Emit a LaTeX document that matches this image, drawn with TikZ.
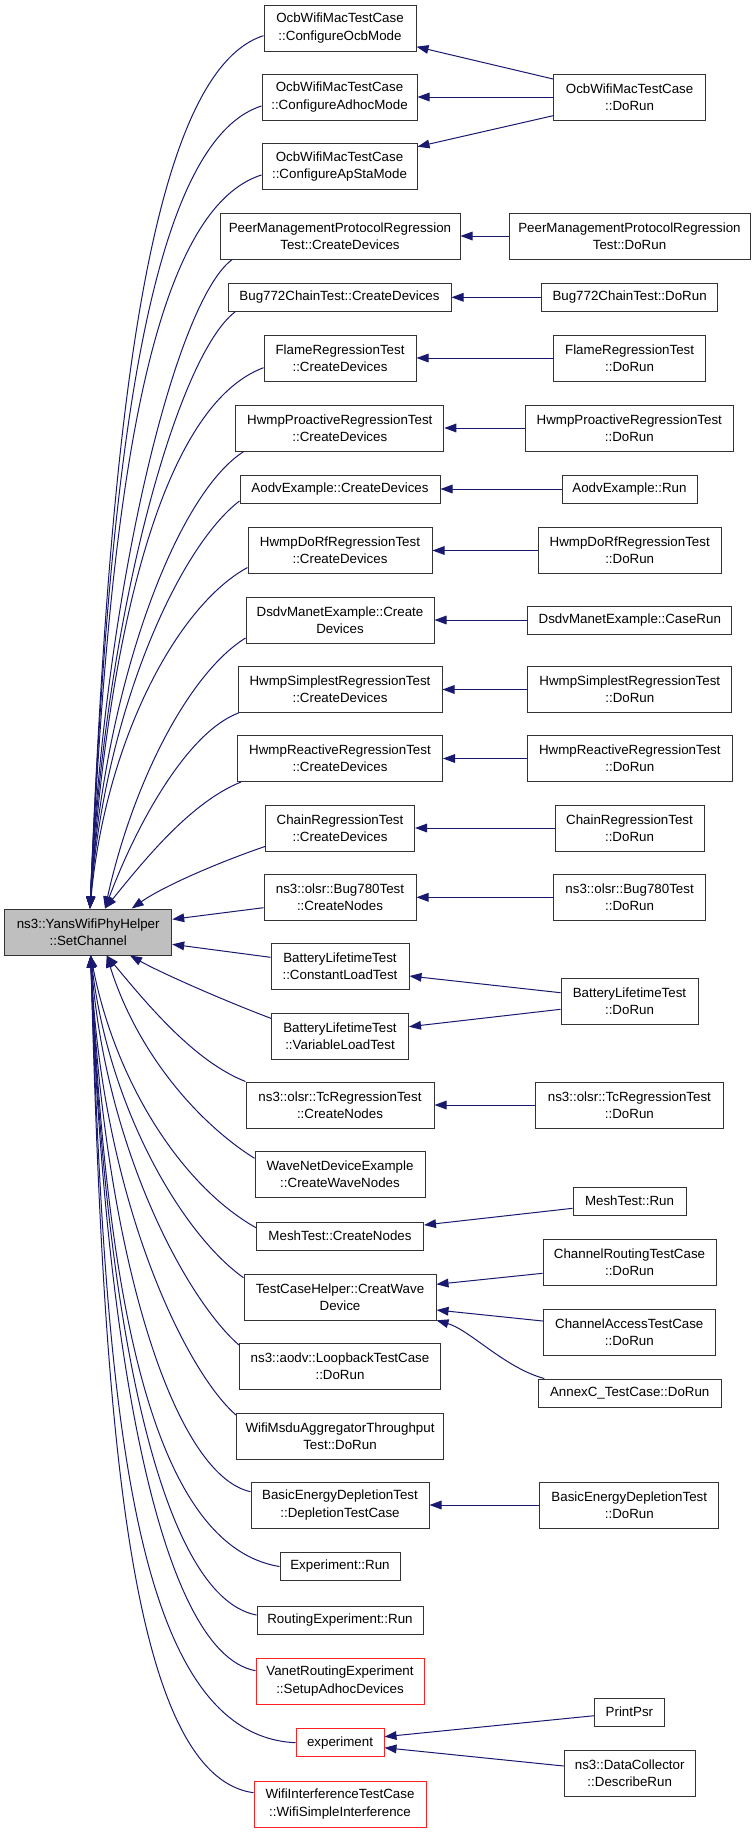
\documentclass[tikz,border=0pt]{standalone}
\usepackage{fontspec}
\setmainfont{Liberation Sans}
\usetikzlibrary{arrows.meta,calc}
\definecolor{edgeblue}{HTML}{191970}
\definecolor{boxgray}{HTML}{BFBFBF}
\definecolor{boxline}{HTML}{333333}
\definecolor{boxred}{HTML}{FF2020}
\begin{document}
\begin{tikzpicture}[x=0.75pt,y=-0.75pt,
  fn/.style={draw=boxline, line width=0.75pt, fill=white, rectangle, inner sep=0pt,
    align=center, font=\fontsize{10}{13}\selectfont, minimum height=34.5pt},
  one/.style={minimum height=21pt},
  redbox/.style={draw=boxred},
  wd/.style={minimum width=#1*0.75pt},
  calls/.style={draw=edgeblue, line width=0.75pt, -{Triangle[length=9pt,width=6.5pt]}}]
\fill[white] (0,0) rectangle (752,1832);
\path[use as bounding box] (0,0) rectangle (752,1832);

% central node
\node[fn,wd=167,fill=boxgray] (set) at (88.2,932) {ns3::YansWifiPhyHelper\\::SetChannel};

% middle column
\node[fn,wd=152] (ocb) at (340,28) {OcbWifiMacTestCase\\::ConfigureOcbMode};
\node[fn,wd=155] (adhoc) at (339.5,97) {OcbWifiMacTestCase\\::ConfigureAdhocMode};
\node[fn,wd=155] (apsta) at (339.5,166.5) {OcbWifiMacTestCase\\::ConfigureApStaMode};
\node[fn,wd=240] (peer) at (340,236) {PeerManagementProtocolRegression\\Test::CreateDevices};
\node[fn,one,wd=223] (bug772) at (339.5,297.3) {Bug772ChainTest::CreateDevices};
\node[fn,wd=152] (flame) at (340,358) {FlameRegressionTest\\::CreateDevices};
\node[fn,wd=208] (hwmppro) at (339.8,428) {HwmpProactiveRegressionTest\\::CreateDevices};
\node[fn,one,wd=200] (aodv) at (340,489) {AodvExample::CreateDevices};
\node[fn,wd=184] (dorf) at (340,550.5) {HwmpDoRfRegressionTest\\::CreateDevices};
\node[fn,wd=188] (dsdv) at (340,620) {DsdvManetExample::Create\\Devices};
\node[fn,wd=204] (simp) at (340,689.5) {HwmpSimplestRegressionTest\\::CreateDevices};
\node[fn,wd=205] (react) at (340,758.5) {HwmpReactiveRegressionTest\\::CreateDevices};
\node[fn,wd=149] (chain) at (340,828) {ChainRegressionTest\\::CreateDevices};
\node[fn,wd=152] (bug780) at (340,897.3) {ns3::olsr::Bug780Test\\::CreateNodes};
\node[fn,wd=138] (constload) at (340,966.5) {BatteryLifetimeTest\\::ConstantLoadTest};
\node[fn,wd=137] (varload) at (340,1036) {BatteryLifetimeTest\\::VariableLoadTest};
\node[fn,wd=188] (tc) at (340,1105) {ns3::olsr::TcRegressionTest\\::CreateNodes};
\node[fn,wd=170] (wavenet) at (340,1174.5) {WaveNetDeviceExample\\::CreateWaveNodes};
\node[fn,one,wd=167] (meshc) at (340,1236) {MeshTest::CreateNodes};
\node[fn,wd=192] (tch) at (340,1297.3) {TestCaseHelper::CreatWave\\Device};
\node[fn,wd=201] (loop) at (340,1366) {ns3::aodv::LoopbackTestCase\\::DoRun};
\node[fn,wd=207] (msdu) at (340,1436) {WifiMsduAggregatorThroughput\\Test::DoRun};
\node[fn,wd=178] (basic) at (340,1505) {BasicEnergyDepletionTest\\::DepletionTestCase};
\node[fn,one,wd=120] (exprun) at (340,1566.5) {Experiment::Run};
\node[fn,one,wd=166] (routing) at (340,1620) {RoutingExperiment::Run};
\node[fn,redbox,wd=168] (vanet) at (340,1681) {VanetRoutingExperiment\\::SetupAdhocDevices};
\node[fn,one,redbox,wd=88] (experiment) at (340,1742.7) {experiment};
\node[fn,redbox,wd=172] (wifiint) at (340,1804) {WifiInterferenceTestCase\\::WifiSimpleInterference};

% right column
\node[fn,wd=152] (ocbrun) at (629.6,97) {OcbWifiMacTestCase\\::DoRun};
\node[fn,wd=241] (peerrun) at (629.5,236) {PeerManagementProtocolRegression\\Test::DoRun};
\node[fn,one,wd=176] (bug772run) at (629.6,297.3) {Bug772ChainTest::DoRun};
\node[fn,wd=152] (flamerun) at (629.6,358) {FlameRegressionTest\\::DoRun};
\node[fn,wd=208.5] (hwmpprorun) at (629.3,428) {HwmpProactiveRegressionTest\\::DoRun};
\node[fn,one,wd=135] (aodvrun) at (629.5,489) {AodvExample::Run};
\node[fn,wd=183] (dorfrun) at (629.7,550.5) {HwmpDoRfRegressionTest\\::DoRun};
\node[fn,one,wd=204] (dsdvrun) at (629.8,620) {DsdvManetExample::CaseRun};
\node[fn,wd=204] (simprun) at (629.8,689.5) {HwmpSimplestRegressionTest\\::DoRun};
\node[fn,wd=205] (reactrun) at (629.8,758.5) {HwmpReactiveRegressionTest\\::DoRun};
\node[fn,wd=149] (chainrun) at (629.5,828) {ChainRegressionTest\\::DoRun};
\node[fn,wd=152] (bug780run) at (629.6,897.3) {ns3::olsr::Bug780Test\\::DoRun};
\node[fn,wd=137] (battrun) at (629.5,1001) {BatteryLifetimeTest\\::DoRun};
\node[fn,wd=188] (tcrun) at (629.4,1105) {ns3::olsr::TcRegressionTest\\::DoRun};
\node[fn,one,wd=113] (meshrun) at (629.5,1201) {MeshTest::Run};
\node[fn,wd=173] (chrout) at (629.5,1262.5) {ChannelRoutingTestCase\\::DoRun};
\node[fn,wd=172] (chacc) at (629.3,1332) {ChannelAccessTestCase\\::DoRun};
\node[fn,one,wd=183] (annexc) at (629.7,1393) {AnnexC\_TestCase::DoRun};
\node[fn,wd=179] (bedrun) at (629.3,1505) {BasicEnergyDepletionTest\\::DoRun};
\node[fn,one,wd=69.5] (printpsr) at (629.4,1712) {PrintPsr};
\node[fn,wd=131] (dcrun) at (629.7,1773.3) {ns3::DataCollector\\::DescribeRun};

% arrow tip points on the central node
\coordinate (t1) at ($(set.north)+(1.8,0)$);
\coordinate (t2) at ($(set.north)+(16.8,0)$);
\coordinate (t3) at ($(set.north)+(43.5,0)$);
\coordinate (b1) at ($(set.south)+(2.5,0)$);
\coordinate (b2) at ($(set.south)+(18.5,0)$);
\coordinate (b3) at ($(set.south)+(41.8,0)$);
\coordinate (r1) at ($(set.east)+(0,-12.7)$);
\coordinate (r2) at ($(set.east)+(0,12.3)$);

% edges to the central node (from above)
\draw[calls] ($(ocb.west)+(0,7.7)$) .. controls (140,75) and (108,480) .. (t1);
\draw[calls] ($(adhoc.west)+(0,9)$) .. controls (139.6,144.5) and (107.1,515.5) .. (t1);
\draw[calls] ($(apsta.west)+(0,8.5)$) .. controls (139.6,213.5) and (107.1,549.3) .. (t1);
\draw[calls] ($(peer.south west)+(12.7,0)$) .. controls (175.6,301) and (104.3,590.2) .. (t1);
\draw[calls] ($(bug772.south west)+(7.7,0)$) .. controls (177.4,355.4) and (104.6,616.3) .. (t1);
\draw[calls] ($(flame.west)+(0,9.7)$) .. controls (159.3,406.7) and (107.3,643.8) .. (t1);
\draw[calls] ($(hwmppro.south west)+(8.5,0)$) .. controls (176.6,494) and (104.4,684.4) .. (t1);
\draw[calls] ($(aodv.west)+(0,12)$) .. controls (179.6,546.5) and (104.9,709.4) .. (t1);
\draw[calls] ($(dorf.west)+(0,17)$) .. controls (176.2,606.5) and (105.7,741.6) .. (t1);
\draw[calls] ($(dsdv.west)+(0,18)$) .. controls (189,673.3) and (133,781.8) .. (t2);
\draw[calls] ($(simp.south west)+(1,0)$) .. controls (188.6,731.6) and (138.2,820.2) .. (t2);
\draw[calls] ($(react.south west)+(4,0)$) .. controls (191.1,802.2) and (146,858) .. (t2);
\draw[calls] ($(chain.west)+(0,18.5)$) .. controls (225,860) and (165,885) .. (t3);
\draw[calls] ($(bug780.west)+(0,10.4)$) -- (r1);
\draw[calls] ($(constload.west)+(0,-9.2)$) -- (r2);

% edges to the central node (from below)
\draw[calls] ($(varload.west)+(0,-17.7)$) .. controls (235,1005) and (165,975) .. (b3);
\draw[calls] (tc.north west) .. controls (194.6,1061.4) and (148.6,1005.9) .. (b2);
\draw[calls] ($(wavenet.west)+(0,-16.2)$) .. controls (195.7,1121.2) and (136.4,1050.6) .. (b2);
\draw[calls] ($(meshc.west)+(0,-8.3)$) .. controls (182.2,1186.1) and (115.6,1083.2) .. (b1);
\draw[calls] ($(tch.west)+(0,-19.6)$) .. controls (182.9,1234.7) and (109.1,1109.9) .. (b1);
\draw[calls] ($(loop.west)+(0,-21)$) .. controls (187.4,1300.4) and (105.6,1150) .. (b1);
\draw[calls] ($(msdu.west)+(0,-21)$) .. controls (185.5,1371.2) and (101.6,1198.8) .. (b1);
\draw[calls] ($(basic.west)+(0,-13.3)$) .. controls (170.6,1474.1) and (102.7,1239.5) .. (b1);
\draw[calls] (exprun.west) .. controls (147.5,1545) and (104.9,1278.8) .. (b1);
\draw[calls] ($(routing.west)+(0,-5)$) .. controls (157.2,1596.3) and (103.2,1304.8) .. (b1);
\draw[calls] ($(vanet.west)+(0,-10.3)$) .. controls (157,1652.5) and (103.1,1334.3) .. (b1);
\draw[calls] (experiment.west) .. controls (130,1735) and (105,1400) .. (b1);
\draw[calls] ($(wifiint.west)+(0,-11.3)$) .. controls (125,1775) and (103,1400) .. (b1);

% edges from the right column
\draw[calls] ($(ocbrun.west)+(0,-18)$) -- ($(ocb.east)+(0,18.7)$);
\draw[calls] (ocbrun.west) -- (adhoc.east);
\draw[calls] ($(ocbrun.west)+(0,18.7)$) -- ($(apsta.east)+(0,-19.8)$);
\draw[calls] (peerrun.west) -- (peer.east);
\draw[calls] (bug772run.west) -- (bug772.east);
\draw[calls] (flamerun.west) -- (flame.east);
\draw[calls] (hwmpprorun.west) -- (hwmppro.east);
\draw[calls] (aodvrun.west) -- (aodv.east);
\draw[calls] (dorfrun.west) -- (dorf.east);
\draw[calls] (dsdvrun.west) -- (dsdv.east);
\draw[calls] (simprun.west) -- (simp.east);
\draw[calls] (reactrun.west) -- (react.east);
\draw[calls] (chainrun.west) -- (chain.east);
\draw[calls] (bug780run.west) -- (bug780.east);
\draw[calls] ($(battrun.west)+(0,-8.3)$) -- ($(constload.east)+(0,9.5)$);
\draw[calls] ($(battrun.west)+(0,8.3)$) -- ($(varload.east)+(0,-9.3)$);
\draw[calls] (tcrun.west) -- (tc.east);
\draw[calls] ($(meshrun.west)+(0,7.3)$) -- ($(meshc.east)+(0,-11)$);
\draw[calls] ($(chrout.west)+(0,10.8)$) -- ($(tch.east)+(0,-13)$);
\draw[calls] ($(chacc.west)+(0,-11)$) -- ($(tch.east)+(0,12.7)$);
\draw[calls] ($(annexc.north west)+(6.6,0)$) .. controls (505,1368) and (470,1330) .. ($(tch.east)+(0,23)$);
\draw[calls] (bedrun.west) -- (basic.east);
\draw[calls] ($(printpsr.west)+(0,3.7)$) -- ($(experiment.east)+(0,-6)$);
\draw[calls] ($(dcrun.west)+(0,-7.3)$) -- ($(experiment.east)+(0,5)$);
\end{tikzpicture}
\end{document}
